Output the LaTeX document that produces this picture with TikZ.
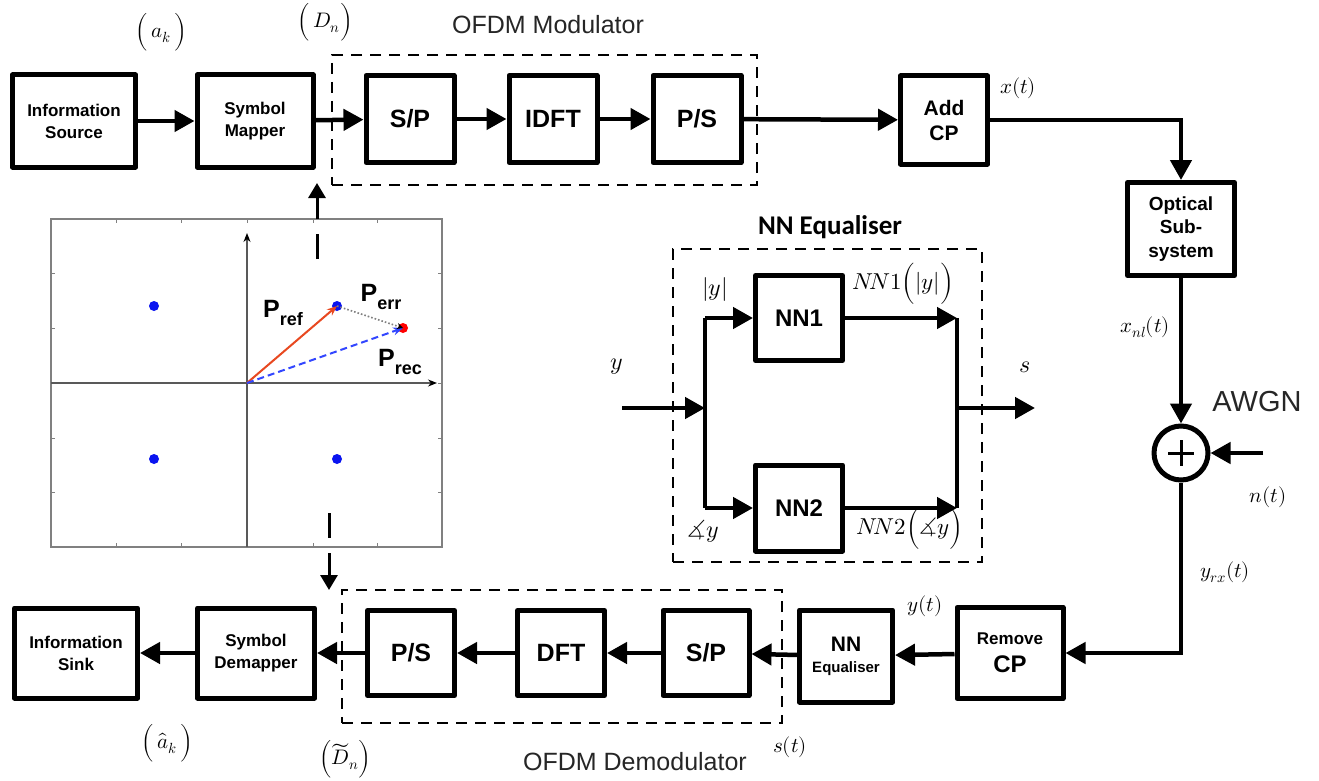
\documentclass[tikz,border=0pt]{standalone}
\usepackage{unicode-math}
\setmainfont{Liberation Sans}
\newfontfamily\calibfont{Carlito}
\usetikzlibrary{arrows.meta}

\definecolor{refred}{RGB}{232,72,32}
\definecolor{recblue}{RGB}{50,70,255}
\definecolor{dotblue}{RGB}{10,20,240}

\begin{document}
\begin{tikzpicture}[x=1pt, y=-1pt,
    blk/.style={draw, line width=5pt, line join=round, align=center, inner sep=0pt,
        font=\bfseries\fontsize{17}{22}\selectfont},
    big/.style={font=\bfseries\fontsize{25}{27}\selectfont},
    conn/.style={line width=4.5pt, -{Triangle[length=20pt,width=21pt]}},
    wire/.style={line width=4.5pt},
    grp/.style={draw, line width=1.8pt, dash pattern=on 11pt off 8pt},
    lbl/.style={inner sep=0pt, font=\fontsize{21}{23}\selectfont},
    ttl/.style={inner sep=0pt, text=black!85, font=\fontsize{25}{27}\selectfont},
    link/.style={line width=3pt, dash pattern=on 25pt off 15pt, -{Triangle[length=15pt,width=17pt]}},
    pvec/.style={inner sep=0pt, font=\bfseries\fontsize{25}{27}\selectfont}]

    \useasboundingbox (0,0) rectangle (1319,781);

    % transmitter row
    \node[blk, minimum width=123pt, minimum height=92pt] (src) at (74,121) {Information\\Source};
    \node[blk, minimum width=116pt, minimum height=92pt] (map) at (255,121) {Symbol\\Mapper};
    \node[blk, big, minimum width=88pt, minimum height=87pt] (sp1) at (410,119) {S/P};
    \node[blk, big, minimum width=88pt, minimum height=87pt] (idft) at (553,119) {IDFT};
    \node[blk, big, minimum width=88pt, minimum height=87pt] (ps1) at (697,119) {P/S};
    \node[blk, font=\bfseries\fontsize{21}{25}\selectfont, minimum width=87pt, minimum height=88pt] (addcp) at (944,120) {Add\\CP};
    \node[blk, font=\bfseries\fontsize{19}{23.5}\selectfont, minimum width=107pt, minimum height=93pt] (opt) at (1181,229) {Optical\\Sub-\\system};

    \node[grp, minimum width=425pt, minimum height=130pt] (mod) at (544.5,120) {};
    \node[ttl] (modlbl) at (548,25) {OFDM Modulator};

    \draw[conn] (src) -- (map);
    \draw[conn] (map) -- (sp1);
    \draw[conn] (sp1) -- (idft);
    \draw[conn] (idft) -- (ps1);
    \draw[conn] (ps1) -- (addcp);
    \draw[conn] (addcp.east) -| (opt.north);

    % channel
    \node[circle, draw, line width=5pt, minimum size=54pt, inner sep=0pt] (sum) at (1181,453) {};
    \draw[line width=3pt] (1168,453) -- (1194,453) (1181,440) -- (1181,466);
    \coordinate (noise) at (1263,453);
    \draw[conn] (opt) -- (sum);
    \draw[conn] (noise) -- (sum);
    \node[inner sep=0pt, text=black!85, font=\fontsize{29}{31}\selectfont] (awgn) at (1257,402) {AWGN};

    % receiver row
    \node[blk, font=\bfseries\fontsize{24}{28}\selectfont, minimum width=106pt, minimum height=91pt] (rcp) at (1010,653)
        {{\fontsize{17}{28}\selectfont Remove}\\CP};
    \node[blk, font=\bfseries\fontsize{15}{21}\selectfont, minimum width=93pt, minimum height=92pt] (nneq) at (846,656)
        {{\fontsize{21}{21}\selectfont NN}\\Equaliser};
    \node[blk, big, minimum width=86pt, minimum height=85pt] (sp2) at (706,653) {S/P};
    \node[blk, big, minimum width=87pt, minimum height=85pt] (dft) at (561,653) {DFT};
    \node[blk, big, minimum width=87pt, minimum height=85pt] (ps2) at (411,653) {P/S};
    \node[blk, minimum width=117pt, minimum height=90pt] (demap) at (256,653) {Symbol\\Demapper};
    \node[blk, minimum width=123pt, minimum height=90pt] (sink) at (76,653) {Information\\Sink};

    \node[grp, minimum width=440pt, minimum height=133pt] (demod) at (562,656.5) {};
    \node[ttl] (demodlbl) at (635,762) {OFDM Demodulator};

    \draw[conn] (sum.south) |- (rcp.east);
    \draw[conn] (rcp) -- (nneq);
    \draw[conn] (nneq) -- (sp2);
    \draw[conn] (sp2) -- (dft);
    \draw[conn] (dft) -- (ps2);
    \draw[conn] (ps2) -- (demap);
    \draw[conn] (demap) -- (sink);

    % signal labels
    \node[lbl] (ak) at (161,32) {$\Bigl(\,a_k\,\Bigr)$};
    \node[lbl] (dn) at (325,22) {$\Bigl(\,D_n\Bigr)$};
    \node[lbl] (xt) at (1018,88) {$x(t)$};
    \node[lbl] (xnl) at (1145,327) {$x_{nl}(t)$};
    \node[lbl] (nt) at (1268,497) {$n(t)$};
    \node[lbl] (yrx) at (1225,572) {$y_{rx}(t)$};
    \node[lbl] (yt) at (925,606) {$y(t)$};
    \node[lbl] (st) at (790,747) {$s(t)$};
    \node[lbl] (akhat) at (167,743) {$\Bigl(\,\hat{a}_k\,\Bigr)$};
    \node[lbl] (dnhat) at (345,759) {$\Bigl(\widetilde{D}_n\Bigr)$};

    % constellation
    \draw[gray, line width=1.5pt] (51,219) rectangle (442,547);
    \foreach \tx in {116,181,247,313,377} {
        \draw[gray, line width=1pt] (\tx,219) -- (\tx,223);
        \draw[gray, line width=1pt] (\tx,547) -- (\tx,543);
    }
    \foreach \ty in {273,328,383,438,492} {
        \draw[gray, line width=1pt] (51,\ty) -- (55,\ty);
        \draw[gray, line width=1pt] (442,\ty) -- (438,\ty);
    }
    \coordinate (org) at (247,383);
    \draw[gray!70!black, line width=1.3pt, -{Stealth[length=9pt,width=7pt,black]}] (247,547) -- (247,233);
    \draw[gray!70!black, line width=1.3pt, -{Stealth[length=9pt,width=7pt,black]}] (51,383) -- (437,383);
    \foreach \px/\py in {154/306, 337/306, 154/459, 337/459}
        \fill[dotblue] (\px,\py) circle (5pt);
    \coordinate (pref) at (337,306);
    \coordinate (prec) at (403,328);
    \fill[red] (prec) circle (5pt);
    \draw[refred, line width=2pt, -{Stealth[length=10pt,width=8pt]}] (org) -- (pref);
    \draw[recblue, line width=2pt, dash pattern=on 7pt off 4pt, -{Stealth[length=10pt,width=8pt]}] (org) -- (prec);
    \draw[gray, line width=1.6pt, dotted, -{Stealth[length=6pt,width=6pt,black]}] (pref) -- (prec);
    \node[pvec] (prefl) at (283,313)
        {P\raisebox{-8pt}{\fontsize{18}{20}\selectfont ref}};
    \node[pvec] (perrl) at (381,297)
        {P\raisebox{-8pt}{\fontsize{18}{20}\selectfont err}};
    \node[pvec] (precl) at (400,362)
        {P\raisebox{-8pt}{\fontsize{18}{20}\selectfont rec}};

    % links between constellation and chain
    \coordinate (up0) at (317,259);
    \coordinate (up1) at (317,183);
    \coordinate (dn0) at (329,513);
    \coordinate (dn1) at (329,590);
    \draw[link] (up0) -- (up1);
    \draw[link] (dn0) -- (dn1);

    % NN equaliser detail
    \node[inner sep=0pt, font=\calibfont\bfseries\fontsize{27}{29}\selectfont] (nnttl) at (830,227) {NN Equaliser};
    \node[grp, minimum width=309pt, minimum height=313pt] (nnbox) at (827.5,405.5) {};
    \node[blk, font=\bfseries\fontsize{24}{26}\selectfont, minimum width=87pt, minimum height=85pt] (nn1) at (799,318) {NN1};
    \node[blk, font=\bfseries\fontsize{24}{26}\selectfont, minimum width=87pt, minimum height=86pt] (nn2) at (799,508) {NN2};
    \coordinate (yin) at (622,408);
    \coordinate (split) at (705,408);
    \coordinate (splitT) at (705,318);
    \coordinate (splitB) at (705,508);
    \coordinate (joinT) at (957,318);
    \coordinate (joinB) at (957,508);
    \coordinate (join) at (957,408);
    \coordinate (sout) at (1035,408);
    \draw[conn] (yin) -- (split);
    \draw[wire] (splitT) -- (splitB);
    \draw[conn] (splitT) -- (nn1);
    \draw[conn] (splitB) -- (nn2);
    \draw[conn] (nn1) -- (joinT);
    \draw[conn] (nn2) -- (joinB);
    \draw[wire] (joinT) -- (joinB);
    \draw[conn] (join) -- (sout);
    \node[lbl, font=\fontsize{24}{26}\selectfont] (yl) at (617,367) {$y$};
    \node[lbl, font=\fontsize{24}{26}\selectfont] (absy) at (715,289) {$\lvert y\rvert$};
    \node[lbl, font=\fontsize{23}{25}\selectfont] (nn1l) at (903,284) {$N\!N1\Bigl(\lvert y\rvert\Bigr)$};
    \node[lbl, font=\fontsize{24}{26}\selectfont] (angy) at (703,531) {$\measuredangle y$};
    \node[lbl, font=\fontsize{23}{25}\selectfont] (nn2l) at (910,529) {$N\!N2\Bigl(\measuredangle y\Bigr)$};
    \node[lbl, font=\fontsize{24}{26}\selectfont] (sl) at (1025,367) {$s$};

\end{tikzpicture}
\end{document}
